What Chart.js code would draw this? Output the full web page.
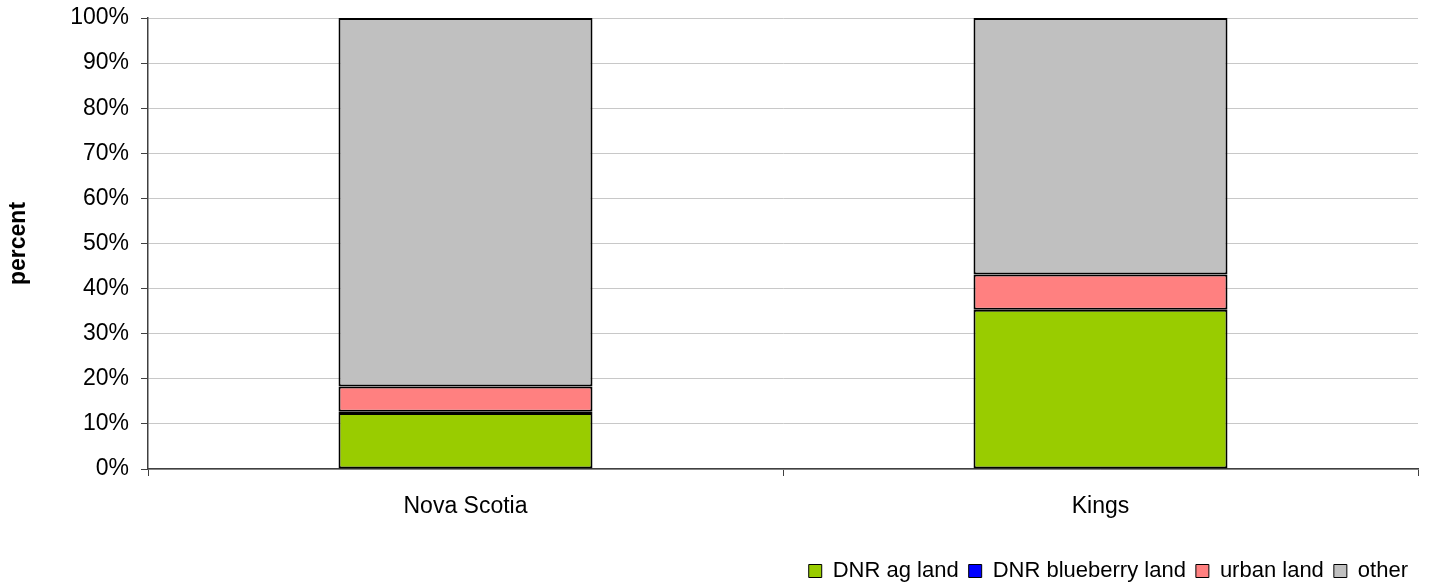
<!DOCTYPE html>
<html>
<head>
<meta charset="utf-8">
<script src="https://cdn.jsdelivr.net/npm/chart.js@4/dist/chart.umd.min.js"></script>
<style>
  html, body { margin: 0; padding: 0; background: #fff; }
  #wrap { width: 1440px; height: 584px; }
</style>
</head>
<body>
<div id="wrap"><canvas id="chart" width="1440" height="584"></canvas></div>
<script>
const categories = ["Nova Scotia", "Kings"]
const agLand = [12.4, 35.3]
const blueberryLand = [0.3, 0]
const urbanLand = [5.6, 7.8]
const other = [81.7, 56.9]
const yTicks = [0, 10, 20, 30, 40, 50, 60, 70, 80, 90, 100]

const font = "'Liberation Sans', Arial, sans-serif"

function series(label, data, color) {
  return {
    label: label,
    data: data,
    backgroundColor: color,
    borderColor: "#000",
    // no outline for empty segments
    borderWidth: function (c) { return c.raw ? 2 : 0 },
    borderSkipped: false,
    barPercentage: 0.4,
    categoryPercentage: 1
  }
}

const ctx = document.getElementById("chart").getContext("2d")
new Chart(ctx, {
  type: "bar",
  data: {
    labels: categories,
    datasets: [
      series("DNR ag land", agLand, "#99CC00"),
      series("DNR blueberry land", blueberryLand, "#0000FF"),
      series("urban land", urbanLand, "#FF8080"),
      series("other", other, "#C0C0C0")
    ]
  },
  options: {
    responsive: false,
    animation: false,
    layout: { padding: { left: 5, right: 22, top: 0, bottom: -8 } },
    plugins: {
      tooltip: { enabled: false },
      legend: {
        position: "bottom",
        align: "end",
        labels: {
          font: { family: font, size: 22, lineHeight: 1 },
          color: "#000",
          boxWidth: 13,
          boxHeight: 13,
          padding: 10,
          generateLabels: function (chart) {
            return chart.data.datasets.map(function (ds, i) {
              return {
                text: ds.label,
                fillStyle: ds.backgroundColor,
                strokeStyle: "#000",
                lineWidth: 1,
                datasetIndex: i
              }
            })
          }
        }
      }
    },
    scales: {
      x: {
        stacked: true,
        offset: true,
        grid: {
          offset: true,
          drawOnChartArea: false,
          drawTicks: true,
          tickLength: 7,
          tickColor: "#404040"
        },
        border: { color: "#404040", width: 1.5 },
        ticks: {
          font: { family: font, size: 23 },
          color: "#000",
          padding: 17
        },
        afterFit: function (scale) { scale.height = 81 }
      },
      y: {
        stacked: true,
        min: 0,
        max: 100,
        afterBuildTicks: function (scale) {
          scale.ticks = yTicks.map(function (v) { return { value: v } })
        },
        grid: {
          color: "#c8c8c8",
          lineWidth: 1,
          tickLength: 7,
          tickColor: "#404040"
        },
        border: { color: "#404040", width: 1.5 },
        ticks: {
          font: { family: font, size: 23 },
          color: "#000",
          padding: 12,
          callback: function (v) { return v + "%" }
        },
        title: {
          display: true,
          text: "percent",
          font: { family: font, size: 23, weight: "bold" },
          color: "#000",
          padding: { top: 0, bottom: 0 }
        },
        afterFit: function (scale) {
          scale.width = 143
          scale.paddingTop = 18
          scale.paddingBottom = 0
        }
      }
    }
  }
})
</script>
</body>
</html>
